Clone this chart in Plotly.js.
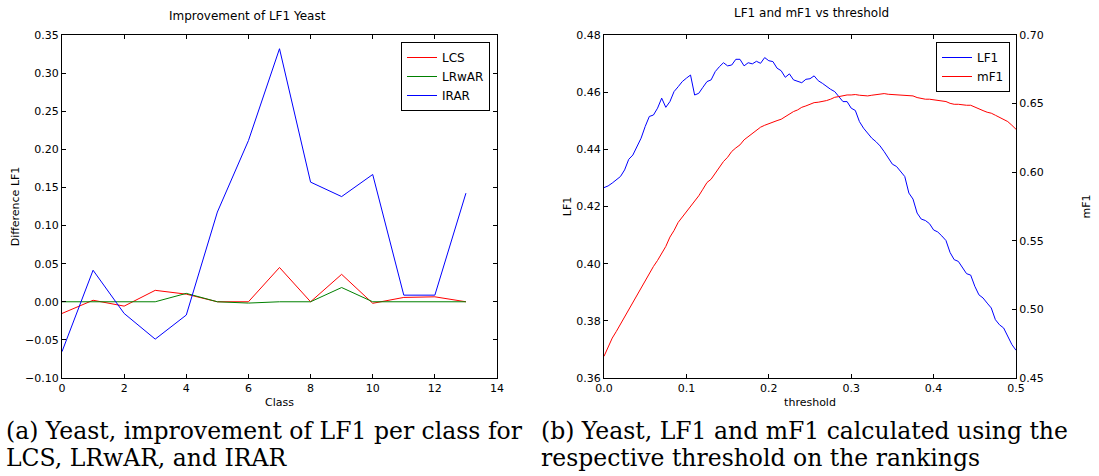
<!DOCTYPE html>
<html>
<head>
<meta charset="utf-8">
<script src="https://cdn.plot.ly/plotly-3.0.1.min.js"></script>
<style>html,body{margin:0;padding:0;background:#fff;}#chart{width:1099px;height:476px;}</style>
</head>
<body>
<div id="chart"></div>
<script>
// ---- Data: left chart (improvement of LF1 per class) ----
const classes = [0,1,2,3,4,5,6,7,8,9,10,11,12,13];
const lcs   = [-0.0153,0.002,-0.0057,0.015,0.010,0.0,0.0,0.045,0.0,0.036,-0.002,0.0057,0.0065,0.0];
const lrwar = [0,0,0,0,0.011,0,-0.0017,0,0,0.0187,0,0,0,0];
const irar  = [-0.0654,0.0414,-0.0153,-0.049,-0.0174,0.1177,0.2114,0.332,0.157,0.138,0.167,0.0087,0.0087,0.1425];

// ---- Data: right chart (LF1 and mF1 vs threshold) ----
const thresholds = [0,0.005,0.01,0.015,0.02,0.025,0.03,0.035,0.04,0.045,0.05,0.055,0.06,0.065,0.07,0.075,0.08,0.085,0.09,0.095,
  0.1,0.105,0.11,0.115,0.12,0.125,0.13,0.135,0.14,0.145,0.15,0.155,0.16,0.165,0.17,0.175,0.18,0.185,0.19,0.195,
  0.2,0.205,0.21,0.215,0.22,0.225,0.23,0.235,0.24,0.245,0.25,0.255,0.26,0.265,0.27,0.275,0.28,0.285,0.29,0.295,
  0.3,0.305,0.31,0.315,0.32,0.325,0.33,0.335,0.34,0.345,0.35,0.355,0.36,0.365,0.37,0.375,0.38,0.385,0.39,0.395,
  0.4,0.405,0.41,0.415,0.42,0.425,0.43,0.435,0.44,0.445,0.45,0.455,0.46,0.465,0.47,0.475,0.48,0.485,0.49,0.495,0.5];
const lf1 = [0.4266,0.4272,0.4282,0.4293,0.4305,0.4328,0.4365,0.438,0.441,0.4439,0.448,0.4515,0.452,0.4544,0.4579,0.4547,0.4567,0.4602,0.4619,0.4637,
  0.4649,0.466,0.459,0.4596,0.4617,0.4637,0.4643,0.4672,0.4689,0.4703,0.4692,0.4695,0.4715,0.4715,0.4692,0.4703,0.4699,0.4708,0.4701,0.4721,
  0.471,0.4707,0.4684,0.4675,0.4652,0.4664,0.4643,0.4637,0.4633,0.4645,0.4647,0.4657,0.464,0.4631,0.4619,0.461,0.4602,0.4584,0.4567,0.4567,
  0.4544,0.4536,0.4497,0.4474,0.4456,0.4439,0.4427,0.4412,0.4392,0.4369,0.4348,0.434,0.4322,0.4305,0.4247,0.4226,0.4177,0.4156,0.4151,0.414,
  0.4118,0.4111,0.4097,0.4081,0.4039,0.4014,0.4008,0.3985,0.3965,0.396,0.3921,0.3891,0.388,0.3862,0.3845,0.3804,0.3786,0.3775,0.3746,0.3717,0.3697];
const mf1 = [0.4658,0.4731,0.4791,0.484,0.4893,0.4949,0.5003,0.5051,0.51,0.5155,0.5211,0.527,0.5313,0.5357,0.5403,0.5459,0.5527,0.5575,0.5634,0.5672,
  0.5711,0.575,0.5791,0.5828,0.5876,0.5925,0.5949,0.5993,0.6041,0.6078,0.6109,0.6151,0.6177,0.6199,0.6236,0.626,0.6284,0.6308,0.6328,0.6342,
  0.6354,0.6369,0.6376,0.6386,0.6405,0.6422,0.6442,0.6454,0.6473,0.6483,0.6498,0.6507,0.651,0.6515,0.6522,0.6532,0.6546,0.6551,0.6558,0.6563,
  0.6563,0.6566,0.6561,0.6556,0.6556,0.6561,0.6566,0.657,0.6573,0.6568,0.6566,0.6568,0.6566,0.6563,0.6563,0.6556,0.6544,0.6536,0.6532,0.6532,
  0.6527,0.6527,0.6522,0.6515,0.6502,0.6495,0.6495,0.649,0.6488,0.6488,0.6473,0.6459,0.6449,0.6437,0.643,0.6415,0.6401,0.6386,0.6369,0.6342,0.6313];

const leftTitle = "Improvement of LF1 Yeast";
const rightTitle = "LF1 and mF1 vs threshold";
const captionA = ["(a) Yeast, improvement of LF1 per class for", "LCS, LRwAR, and IRAR"];
const captionB = ["(b) Yeast, LF1 and mF1 calculated using the", "respective threshold on the rankings"];

const W = 1099, H = 476;
const px = v => v / W;
const py = v => 1 - v / H;
const tickFont = {family: "DejaVu Sans", size: 11, color: "#000"};
const titleFont = {family: "DejaVu Sans", size: 11, color: "#000"};
const capFont = {family: "DejaVu Serif", size: 23.5, color: "#000"};
const baseAxis = {
  showgrid: false, zeroline: false, showline: true, linecolor: "#000", linewidth: 1,
  ticks: "inside", ticklen: 4, tickcolor: "#000", tickfont: tickFont, mirror: "ticks"
};

const traces = [
  {x: classes, y: lcs, name: "LCS", mode: "lines", line: {color: "#ff0000", width: 1}, xaxis: "x", yaxis: "y", legend: "legend"},
  {x: classes, y: lrwar, name: "LRwAR", mode: "lines", line: {color: "#008000", width: 1}, xaxis: "x", yaxis: "y", legend: "legend"},
  {x: classes, y: irar, name: "IRAR", mode: "lines", line: {color: "#0000ff", width: 1}, xaxis: "x", yaxis: "y", legend: "legend"},
  {x: thresholds, y: lf1, name: "LF1", mode: "lines", line: {color: "#0000ff", width: 1}, xaxis: "x2", yaxis: "y2", legend: "legend2"},
  {x: thresholds, y: mf1, name: "mF1", mode: "lines", line: {color: "#ff0000", width: 1}, xaxis: "x2", yaxis: "y3", legend: "legend2"}
];

function note(text, x, y, font, xanchor) {
  return {text: text, x: px(x), y: py(y), xref: "paper", yref: "paper", xanchor: xanchor, yanchor: "middle",
          showarrow: false, font: font};
}

const yDom = [py(378), py(35)];
const layout = {
  width: W, height: H,
  margin: {l: 0, r: 0, t: 0, b: 0},
  paper_bgcolor: "#fff", plot_bgcolor: "#fff",
  showlegend: true,
  font: {family: "DejaVu Sans", color: "#000"},
  xaxis: Object.assign({}, baseAxis, {domain: [px(62), px(497)], anchor: "y", range: [0, 14], dtick: 2, tick0: 0,
    title: {text: "Class", font: titleFont, standoff: 4}}),
  yaxis: Object.assign({}, baseAxis, {domain: yDom, anchor: "x", range: [-0.10, 0.35], dtick: 0.05, tick0: 0, tickformat: ".2f",
    title: {text: "Difference LF1", font: titleFont, standoff: 3}}),
  xaxis2: Object.assign({}, baseAxis, {domain: [px(604), px(1016)], anchor: "y2", range: [0, 0.5], dtick: 0.1, tick0: 0, tickformat: ".1f",
    title: {text: "threshold", font: titleFont, standoff: 4}}),
  yaxis2: Object.assign({}, baseAxis, {domain: yDom, anchor: "x2", range: [0.36, 0.48], dtick: 0.02, tick0: 0.36, tickformat: ".2f", mirror: false,
    title: {text: "LF1", font: titleFont, standoff: 2}}),
  yaxis3: Object.assign({}, baseAxis, {domain: yDom, anchor: "x2", overlaying: "y2", side: "right", range: [0.45, 0.70], dtick: 0.05, tick0: 0.45, tickformat: ".2f", mirror: false,
    title: {text: "mF1", font: titleFont, standoff: 39}}),
  legend: {x: px(490), y: py(42), xanchor: "right", yanchor: "top", bgcolor: "#fff", bordercolor: "#000", borderwidth: 1,
    font: {family: "DejaVu Sans", size: 12, color: "#000"}, tracegroupgap: 0, itemwidth: 30},
  legend2: {x: px(1010), y: py(42), xanchor: "right", yanchor: "top", bgcolor: "#fff", bordercolor: "#000", borderwidth: 1,
    font: {family: "DejaVu Sans", size: 12, color: "#000"}, tracegroupgap: 0, itemwidth: 30},
  annotations: [
    note(leftTitle, 247, 16, {family: "DejaVu Sans", size: 12, color: "#000"}, "center"),
    note(rightTitle, 811, 13, {family: "DejaVu Sans", size: 12, color: "#000"}, "center"),
    note(captionA[0], 4, 431, capFont, "left"),
    note(captionA[1], 4, 458, capFont, "left"),
    note(captionB[0], 539, 431, capFont, "left"),
    note(captionB[1], 539, 458, capFont, "left")
  ]
};

Plotly.newPlot("chart", traces, layout, {displayModeBar: false, staticPlot: true});
</script>
</body>
</html>
